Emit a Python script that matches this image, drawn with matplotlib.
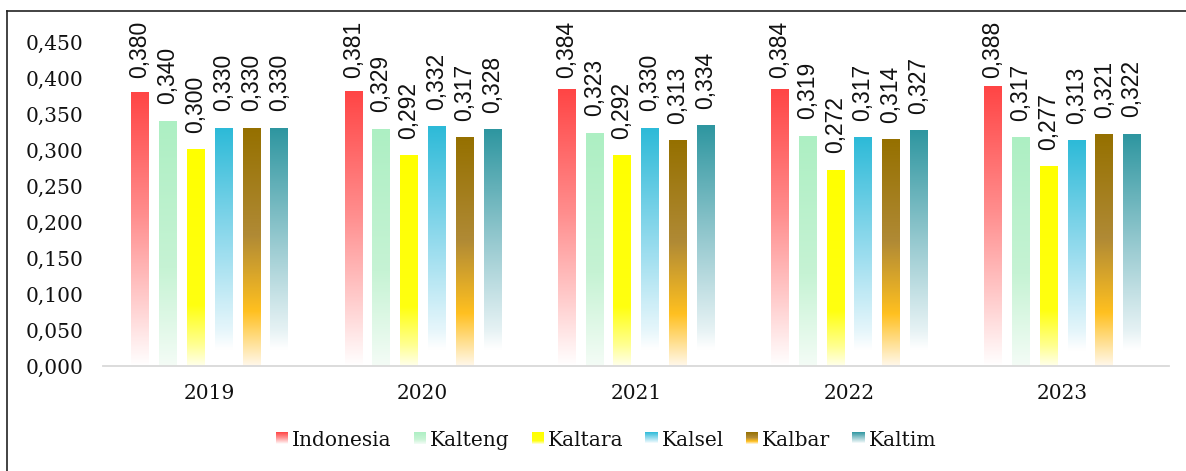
import numpy as np
import matplotlib
matplotlib.use("Agg")
import matplotlib.pyplot as plt
from matplotlib.colors import LinearSegmentedColormap
from matplotlib.patches import Rectangle
from matplotlib.legend_handler import HandlerBase
from matplotlib.lines import Line2D
from matplotlib.font_manager import FontProperties

years = ["2019", "2020", "2021", "2022", "2023"]
series = ["Indonesia", "Kalteng", "Kaltara", "Kalsel", "Kalbar", "Kaltim"]
indonesia = [0.380, 0.381, 0.384, 0.384, 0.388]
kalteng = [0.340, 0.329, 0.323, 0.319, 0.317]
kaltara = [0.300, 0.292, 0.292, 0.272, 0.277]
kalsel = [0.330, 0.332, 0.330, 0.317, 0.313]
kalbar = [0.330, 0.317, 0.313, 0.314, 0.321]
kaltim = [0.330, 0.328, 0.334, 0.327, 0.322]
values = [indonesia, kalteng, kaltara, kalsel, kalbar, kaltim]
yticks = [0.0, 0.05, 0.10, 0.15, 0.20, 0.25, 0.30, 0.35, 0.40, 0.45]

# gradient stops, from top (0) to bottom (1) of each bar
gradients = [
    [(0.0, "#FF4545"), (0.45, "#FF8E8E"), (0.75, "#FFCACA"), (1.0, "#FFFFFF")],
    [(0.0, "#ADEFC3"), (0.6, "#C6F3D4"), (1.0, "#F4FCF6")],
    [(0.0, "#FFFF00"), (0.72, "#FFFF10"), (0.9, "#FFFF90"), (1.0, "#FFFFEA")],
    [(0.0, "#2DBAD8"), (0.5, "#98DCEE"), (0.85, "#E6F6FB"), (0.93, "#FFFFFF"), (1.0, "#FFFFFF")],
    [(0.0, "#957000"), (0.45, "#B08A35"), (0.77, "#FFC020"), (1.0, "#FFF8EA")],
    [(0.0, "#2E96A0"), (0.5, "#9CCCD2"), (0.85, "#E6F2F4"), (0.93, "#FFFFFF"), (1.0, "#FFFFFF")],
]
cmaps = [LinearSegmentedColormap.from_list(f"g{i}", g) for i, g in enumerate(gradients)]

W, H = 1186, 471
fig = plt.figure(figsize=(W / 100, H / 100), dpi=100)
ax = fig.add_axes([103 / W, 1 - 366 / H, 1066 / W, 324 / H])

x = np.arange(len(years))
step = 0.1305
bw = 0.082
grad = np.linspace(0, 1, 256).reshape(-1, 1)
for i, (name, vals) in enumerate(zip(series, values)):
    bars = ax.bar(x + (i - 2.5) * step, vals, bw, facecolor="none", edgecolor="none")
    for b, v in zip(bars, vals):
        x0 = b.get_x()
        ax.imshow(grad, cmap=cmaps[i], aspect="auto", interpolation="bilinear",
                  extent=[x0, x0 + b.get_width(), 0, b.get_height()], zorder=2)
        ty = min(v + 0.0236, 0.400)
        ax.text(b.get_x() + b.get_width() / 2, ty, f"{v:.3f}".replace(".", ","),
                rotation=90, ha="center", va="bottom", fontsize=16.5,
                family="Liberation Sans", color="#111111", clip_on=False)

ax.set_xlim(-0.5, len(years) - 0.5)
ax.set_ylim(0, 0.45)
ax.set_xticks(x)
ax.set_xticklabels(years, family="DejaVu Serif", fontsize=14.5)
ax.set_yticks(yticks)
ax.set_yticklabels([f"{t:.3f}".replace(".", ",") for t in yticks],
                   family="DejaVu Serif", fontsize=14.5)
ax.tick_params(axis="both", length=0, colors="#111111")
ax.tick_params(axis="y", pad=14)
ax.tick_params(axis="x", pad=13)
for s in ["top", "right", "left"]:
    ax.spines[s].set_visible(False)
ax.spines["bottom"].set_color("#D9D9D9")
ax.spines["bottom"].set_linewidth(1.3)
ax.spines["bottom"].set_zorder(3)


class GradHandler(HandlerBase):
    def __init__(self, cmap):
        super().__init__()
        self.cmap = cmap

    def create_artists(self, legend, orig_handle, xdescent, ydescent, width, height, fontsize, trans):
        arts = []
        n = 12
        for k in range(n):
            c = self.cmap((k + 0.5) / n)
            r = Rectangle((-xdescent, -ydescent + height * (1 - (k + 1) / n)), width, height / n + 0.3,
                          facecolor=c, edgecolor="none", transform=trans)
            arts.append(r)
        return arts


legend_font = FontProperties(family="DejaVu Serif", size=14.5)
handles = [Rectangle((0, 0), 1, 1, label=s) for s in series]
hmap = {h: GradHandler(cm) for h, cm in zip(handles, cmaps)}
leg = fig.legend(handles=handles, labels=series, handler_map=hmap, loc="center",
                 bbox_to_anchor=(606 / W, 1 - 440 / H), ncol=6, frameon=False,
                 prop=legend_font,
                 handlelength=0.6, handleheight=0.55, handletextpad=0.2, columnspacing=1.1)
for t in leg.get_texts():
    t.set_color("#111111")

fig.add_artist(Line2D([7 / W, 7 / W], [0, 1 - 11 / H], color="#222222", lw=1.2))
fig.add_artist(Line2D([7 / W, 1], [1 - 11 / H, 1 - 11 / H], color="#222222", lw=1.2))

fig.savefig("out.png", dpi=100)
